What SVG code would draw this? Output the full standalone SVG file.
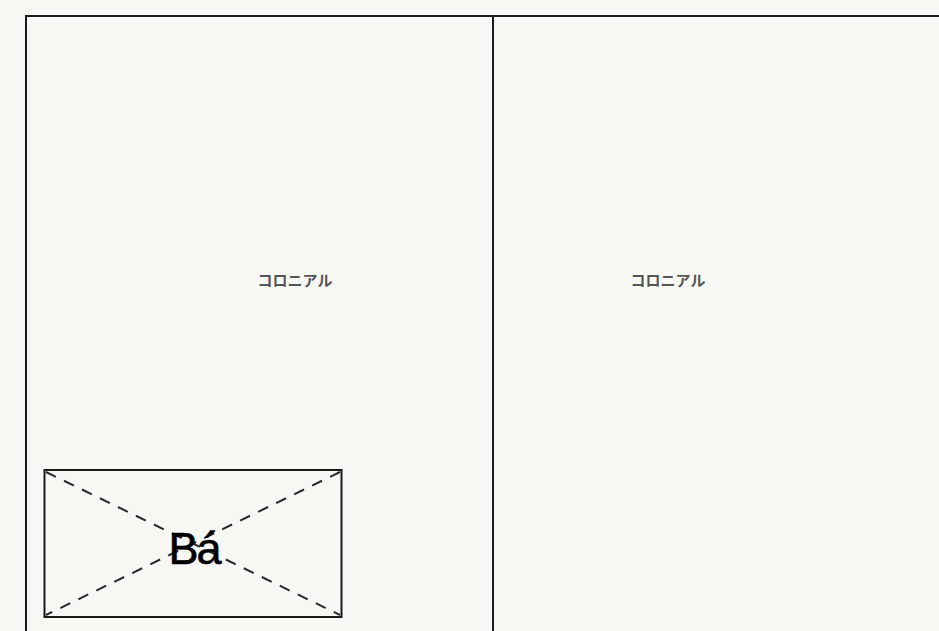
<svg xmlns="http://www.w3.org/2000/svg" width="939" height="631" viewBox="0 0 939 631">
<style>
.frame{fill:none;stroke:#1a1a1a;stroke-width:2}
.lbl{font-family:"Noto Sans CJK JP","Liberation Sans",sans-serif;font-size:15px;font-weight:bold;fill:#555;text-anchor:middle}
.diag{stroke:#2a2a2a;stroke-width:2;stroke-dasharray:11 9;fill:none}
</style>
<rect width="939" height="631" fill="#f7f8f3"/>
<g id="panels">
<rect class="frame" x="26" y="16" width="930" height="640"/>
<line class="frame" x1="493" y1="16" x2="493" y2="631"/>
</g>
<g id="label-left"><text class="lbl" x="295" y="286">コロニアル</text></g>
<g id="label-right"><text class="lbl" x="668" y="286">コロニアル</text></g>
<g id="placeholder">
<rect class="frame" x="44.5" y="470" width="297" height="147"/>
<g id="connectors">
<line class="diag" x1="46" y1="472" x2="340" y2="615"/>
<line class="diag" x1="340" y1="472" x2="46" y2="615"/>
</g>
<text x="194" y="564" font-family="Liberation Sans, sans-serif" font-size="45" fill="#000" stroke="#000" stroke-width="0.6" text-anchor="middle" letter-spacing="-2">Bá</text>
</g>
</svg>
